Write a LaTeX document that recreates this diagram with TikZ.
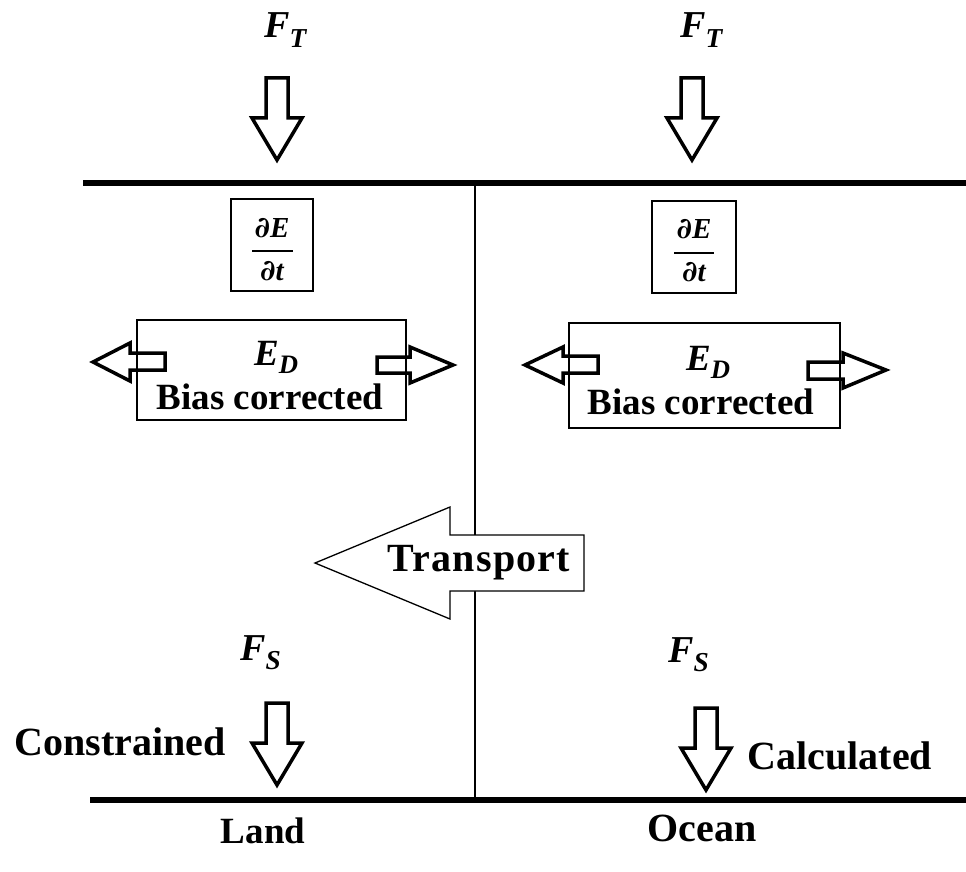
\documentclass[tikz,border=0pt]{standalone}
\usepackage{fontspec}
\setmainfont{Liberation Serif}
\newfontfamily\pdfont{DejaVu Serif}
\newcommand{\bsym}[3]{{\fontsize{#1}{#1}\selectfont\bfseries\itshape #2\raisebox{-0.24em}{\fontsize{0.72\dimexpr#1pt\relax}{10}\selectfont #3}}}
\newcommand{\pd}{{\pdfont\bfseries\itshape ∂}}
\begin{document}
\begin{tikzpicture}[x=1pt,y=-1pt,
  surface/.style={line width=5.5pt},
  divider/.style={line width=1.6pt},
  hollow/.style={draw, line width=3.5pt, line join=miter},
  thinbox/.style={draw, line width=1.3pt, inner sep=0pt},
  fracbar/.style={line width=1.6pt},
  fracpart/.style={inner sep=0pt, font=\fontsize{29}{32}\selectfont\bfseries\itshape},
  word/.style={font=\fontsize{37}{40}\selectfont\bfseries, inner sep=0pt},
  bigword/.style={font=\fontsize{40}{42}\selectfont\bfseries, inner sep=0pt},
  sym/.style={inner sep=0pt, anchor=base west}]
\useasboundingbox (0,0) rectangle (966,872);

% surfaces and divider
\coordinate (topL) at (83,183);
\coordinate (topR) at (966,183);
\coordinate (botL) at (90,800);
\coordinate (botR) at (966,800);
\coordinate (divT) at (475,183);
\coordinate (divB) at (475,800);
\draw[divider] (divT) -- (divB);
\draw[surface] (topL) -- (topR);
\draw[surface] (botL) -- (botR);

% top fluxes
\node[sym] (ftL) at (264,38) {\bsym{38}{F}{T}};
\node[sym] (ftR) at (680,38) {\bsym{38}{F}{T}};
\draw[hollow] (266,78) -- (288,78) -- (288,118) -- (302,118) -- (277,160) -- (252,118) -- (266,118) -- cycle;
\draw[hollow] (681,78) -- (703,78) -- (703,118) -- (717,118) -- (692,160) -- (667,118) -- (681,118) -- cycle;

% storage boxes
\node[thinbox, minimum width=82, minimum height=92] (dedtL) at (272,245) {};
\node[fracpart, anchor=base] (numL) at (272,237) {\pd E};
\coordinate (barLa) at (252,251);
\coordinate (barLb) at (293,251);
\draw[fracbar] (barLa) -- (barLb);
\node[fracpart, anchor=base] (denL) at (272,280) {\pd t};
\node[thinbox, minimum width=84, minimum height=92] (dedtR) at (694,247) {};
\node[fracpart, anchor=base] (numR) at (694,238) {\pd E};
\coordinate (barRa) at (674,253);
\coordinate (barRb) at (714,253);
\draw[fracbar] (barRa) -- (barRb);
\node[fracpart, anchor=base] (denR) at (694,281) {\pd t};

% E_D boxes
\node[thinbox, minimum width=269, minimum height=100] (edL) at (271.5,370) {};
\node[sym] (edLt) at (254,365) {\bsym{37}{E}{D}};
\node[word] (biasL) at (270,397) {Bias corrected};
\node[thinbox, minimum width=271, minimum height=105] (edR) at (704.5,375.5) {};
\node[sym] (edRt) at (686,370) {\bsym{37}{E}{D}};
\node[word] (biasR) at (701,402) {Bias corrected};

% lateral arrows, left box
\draw[hollow] (165,353) -- (130,353) -- (130,343) -- (93,362) -- (130,381) -- (130,370) -- (165,370) -- cycle;
\draw[hollow] (377,357) -- (410,357) -- (410,347) -- (453,365) -- (410,383) -- (410,373) -- (377,373) -- cycle;
% lateral arrows, right box
\draw[hollow] (598,356) -- (563,356) -- (563,347) -- (525,365) -- (563,383) -- (563,373) -- (598,373) -- cycle;
\draw[hollow] (808,362) -- (843,362) -- (843,353) -- (886,370) -- (843,388) -- (843,379) -- (808,379) -- cycle;

% transport arrow
\draw[line width=1.3pt, fill=white, line join=miter] (584,535) -- (450,535) -- (450,507) -- (315,563) -- (450,619) -- (450,591) -- (584,591) -- cycle;
\node[bigword, font=\fontsize{40}{42}\selectfont\bfseries\addfontfeature{LetterSpace=3}] (transport) at (479,563) {Transport};

% surface fluxes
\node[sym] (fsL) at (240,660) {\bsym{38}{F}{S}};
\node[sym] (fsR) at (668,662) {\bsym{38}{F}{S}};
\draw[hollow] (266,703) -- (288,703) -- (288,743) -- (302,743) -- (277,785) -- (252,743) -- (266,743) -- cycle;
\draw[hollow] (695,708) -- (717,708) -- (717,748) -- (731,748) -- (706,790) -- (681,748) -- (695,748) -- cycle;
\node[bigword] (constr) at (120,742) {Constrained};
\node[bigword] (calc) at (840,756) {Calculated};

% domain labels
\node[word] (land) at (263,831) {Land};
\node[bigword] (ocean) at (702,828) {Ocean};
\end{tikzpicture}
\end{document}
